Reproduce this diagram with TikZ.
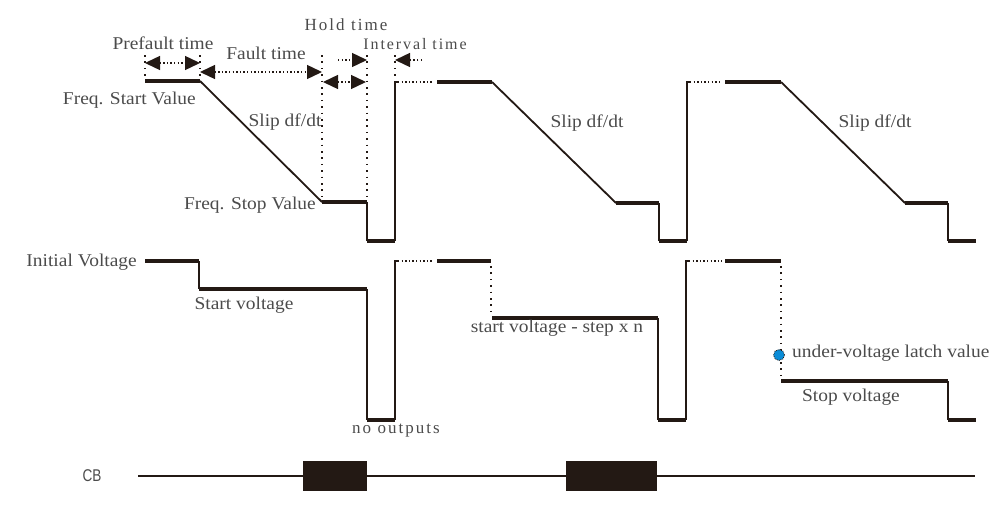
\documentclass[tikz,border=0pt]{standalone}
\usepackage{fontspec}
\setmainfont{Liberation Serif}[FakeStretch=1.08]
\newfontfamily\spaced{Liberation Serif}[LetterSpace=12]
\newfontfamily\cbfont{Liberation Sans}[FakeStretch=0.8]
\usetikzlibrary{arrows.meta}
\definecolor{txt}{RGB}{75,75,75}
\definecolor{ink}{RGB}{35,25,20}
\definecolor{latch}{RGB}{10,140,215}
\begin{document}
\begin{tikzpicture}[x=1pt,y=-1pt,
  thk/.style={line width=4.2pt,ink},
  thn/.style={line width=1.8pt,ink,line join=miter},
  dotline/.style={line width=1.4pt,ink,dash pattern=on 1.4pt off 2.2pt},
  vdots/.style={line width=1.6pt,ink,dash pattern=on 1.6pt off 4.8pt},
  dim/.style={dotline,{Triangle[length=15pt,width=14pt]}-{Triangle[length=15pt,width=14pt]}},
  lbl/.style={text=txt,font=\fontsize{18}{20}\selectfont,inner sep=0pt},
  mono/.style={text=txt,font=\spaced\fontsize{17}{19}\selectfont,inner sep=0pt}]
\useasboundingbox (0,0) rectangle (1006,506);

% ---------- frequency trace ----------
\draw[thk] (145,81) -- (200,81);
\draw[thn] (200,81) -- (322,202);
\draw[thk] (322,202) -- (367,202);
\draw[thn] (367,202) -- (367,241);
\draw[thk] (367,241) -- (395,241);
\draw[thn] (395,241) -- (395,82) -- (398,82);
\draw[dotline] (398,82) -- (432,82);
\draw[thk] (437,82) -- (492,82);
\draw[thn] (492,82) -- (616,203);
\draw[thk] (616,203) -- (659,203);
\draw[thn] (659,203) -- (659,241);
\draw[thk] (659,241) -- (687,241);
\draw[thn] (687,241) -- (687,82) -- (690,82);
\draw[dotline] (690,82) -- (722,82);
\draw[thk] (725,82) -- (781,82);
\draw[thn] (781,82) -- (905,203);
\draw[thk] (905,203) -- (948,203);
\draw[thn] (948,203) -- (948,241);
\draw[thk] (948,241) -- (976,241);

% ---------- timing marks ----------
\draw[vdots] (145,55) -- (145,76);
\draw[vdots] (200,55) -- (200,76);
\draw[vdots] (322,55) -- (322,200);
\draw[vdots] (367,55) -- (367,200);
\draw[vdots] (395,55) -- (395,76);
\coordinate (pf1) at (145,63); \coordinate (pf2) at (200,63);
\coordinate (ft1) at (200,72); \coordinate (ft2) at (322,72);
\coordinate (ht1) at (323,82); \coordinate (ht2) at (366,82);
\coordinate (ho0) at (338,60); \coordinate (ho1) at (367,60);
\coordinate (it0) at (422,60); \coordinate (it1) at (395,60);
\draw[dim] (pf1) -- (pf2);
\draw[dim] (ft1) -- (ft2);
\draw[dim] (ht1) -- (ht2);
\draw[dotline,-{Triangle[length=15pt,width=14pt]}] (ho0) -- (ho1);
\draw[dotline,-{Triangle[length=15pt,width=14pt]}] (it0) -- (it1);

% ---------- voltage trace ----------
\draw[thk] (145,261) -- (199,261);
\draw[thn] (199,261) -- (199,289);
\draw[thk] (199,289) -- (367,289);
\draw[thn] (367,289) -- (367,420);
\draw[thk] (367,420) -- (395,420);
\draw[thn] (395,420) -- (395,261) -- (398,261);
\draw[dotline] (398,261) -- (432,261);
\draw[thk] (437,261) -- (491,261);
\draw[vdots] (491,266) -- (491,312);
\draw[thk] (492,318) -- (658,318);
\draw[thn] (658,318) -- (658,420);
\draw[thk] (658,420) -- (686,420);
\draw[thn] (686,420) -- (686,261) -- (689,261);
\draw[dotline] (689,261) -- (722,261);
\draw[thk] (725,261) -- (781,261);
\draw[vdots] (781,266) -- (781,378);
\draw[thk] (781,381) -- (948,381);
\draw[thn] (948,381) -- (948,420);
\draw[thk] (948,420) -- (976,420);
\node[circle,fill=latch,draw=ink,densely dotted,line width=0.8pt,minimum size=11pt,inner sep=0pt] (uvl) at (779,355) {};

% ---------- CB ----------
\draw[line width=1.6pt,ink] (138,476) -- (975,476);
\node[fill=ink,minimum width=64pt,minimum height=30pt,inner sep=0pt] (cb1) at (335,476) {};
\node[fill=ink,minimum width=91pt,minimum height=30pt,inner sep=0pt] (cb2) at (611.5,476) {};

% ---------- labels ----------
\node[lbl] (lpf) at (163,43) {Prefault time};
\node[lbl] (lft) at (266,53) {Fault time};
\node[mono] (lht) at (346,25) {Hold time};
\node[mono,font=\spaced\fontsize{16}{18}\selectfont] (lit) at (415,44) {Interval time};
\node[lbl,anchor=east] (lfsv) at (196,100) {Freq. Start Value};
\node[lbl] (ls1) at (285,122) {Slip df/dt};
\node[lbl] (ls2) at (587,123) {Slip df/dt};
\node[lbl] (ls3) at (875,123) {Slip df/dt};
\node[lbl,anchor=east] (lfst) at (316,205) {Freq. Stop Value};
\node[lbl,anchor=east] (liv) at (137,262) {Initial Voltage};
\node[lbl] (lsv) at (244,305) {Start voltage};
\node[mono] (lno) at (396,431) {no outputs};
\node[lbl] (lsvn) at (557,328) {start voltage - step x n};
\node[lbl,anchor=west] (luv) at (792,353) {under-voltage latch value};
\node[lbl] (lst) at (851,397) {Stop voltage};
\node[text=txt,font=\cbfont\fontsize{17}{19}\selectfont,inner sep=0pt] (lcb) at (92,476) {CB};
\end{tikzpicture}
\end{document}
